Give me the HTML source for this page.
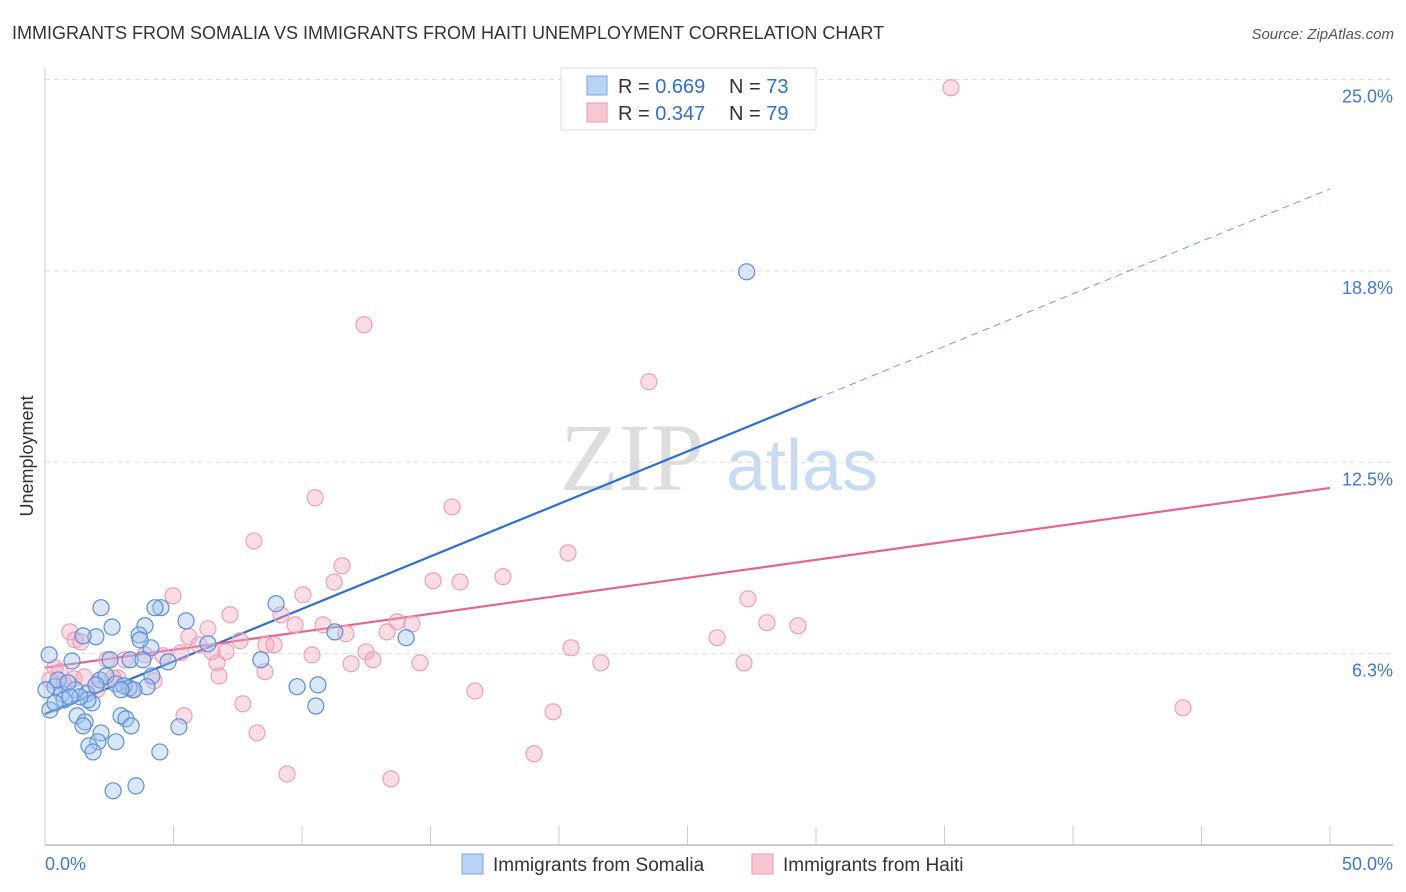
<!DOCTYPE html>
<html><head><meta charset="utf-8"><style>
body{margin:0;background:#fff;font-family:"Liberation Sans",sans-serif;}
svg{display:block}
</style></head><body>
<svg id="chart" width="1406" height="892" xmlns="http://www.w3.org/2000/svg">
<text x="12" y="39" font-size="18" fill="#333" font-family="Liberation Sans, sans-serif">IMMIGRANTS FROM SOMALIA VS IMMIGRANTS FROM HAITI UNEMPLOYMENT CORRELATION CHART</text>
<text x="1394" y="39" font-size="15" fill="#555" font-style="italic" text-anchor="end">Source: ZipAtlas.com</text>
<text transform="translate(33,456) rotate(-90)" font-size="18" fill="#333" text-anchor="middle">Unemployment</text>
<g font-size="96" text-anchor="middle">
<text x="632" y="490" fill="#ddd" font-family="Liberation Serif, serif">ZIP</text>
<text x="802" y="490" fill="#c8dbf2" font-size="72">atlas</text>
</g>
<g id="grid"></g><g id="axes"></g><g id="trend"></g><g id="pts"></g>
<g>
<rect x="561" y="68" width="255" height="62" fill="#fff" stroke="#ddd"/>
<rect x="587" y="76" width="20" height="19" fill="#b9d3f5" stroke="#7aa7e0"/>
<rect x="587" y="103" width="20" height="19" fill="#f9c6d4" stroke="#ec9ab3"/>
<text x="618" y="93" font-size="20" fill="#333">R = <tspan fill="#2f6fd4">0.669</tspan></text>
<text x="729" y="93" font-size="20" fill="#333">N = <tspan fill="#2f6fd4">73</tspan></text>
<text x="618" y="120" font-size="20" fill="#333">R = <tspan fill="#2f6fd4">0.347</tspan></text>
<text x="729" y="120" font-size="20" fill="#333">N = <tspan fill="#2f6fd4">79</tspan></text>
</g>
<g font-size="19" fill="#333">
<rect x="462" y="854" width="21" height="20" fill="#b9d3f5" stroke="#7aa7e0"/>
<text x="493" y="871">Immigrants from Somalia</text>
<rect x="752" y="854" width="21" height="20" fill="#f9c6d4" stroke="#ec9ab3"/>
<text x="783" y="871">Immigrants from Haiti</text>
</g>
</svg>
<script>
const xTickLabels=["0.0%","50.0%"];
const yTicks=[6.25,12.5,18.75,25];
const yTickLabels=["6.3%","12.5%","18.8%","25.0%"];
const somaliaX=[27.3,14.05,11.28,10.62,9.81,10.54,8.99,8.40,6.34,5.49,4.51,4.28,3.89,3.66,4.12,4.79,4.16,3.97,3.31,3.81,3.27,2.61,2.18,1.98,1.48,1.05,0.16,0.39,0.66,1.17,1.63,1.83,0.74,0.19,0.39,1.25,1.56,1.48,2.18,2.06,1.71,1.87,2.76,2.96,3.15,3.35,4.47,5.21,2.65,3.54,2.14,2.37,2.76,3.07,3.46,0.04,0.51,0.89,2.53,3.70,2.96,1.98,1.67,1.36,0.97];
const somaliaY=[18.72,6.77,6.96,5.23,5.17,4.54,7.88,6.05,6.57,7.32,7.75,7.75,7.16,6.86,6.44,5.98,5.52,5.17,6.05,6.05,5.13,7.12,7.75,6.80,6.83,6.01,6.21,5.17,4.94,5.07,4.94,4.64,4.74,4.41,4.64,4.22,4.02,3.89,3.66,3.37,3.24,3.04,3.37,4.22,4.12,3.89,3.04,3.86,1.77,1.93,5.39,5.52,5.26,5.20,5.07,5.07,5.39,5.30,6.05,6.70,5.07,5.23,4.74,4.84,4.84];
const haitiX=[35.25,12.41,23.50,10.51,15.84,8.13,20.35,11.56,11.25,15.10,16.15,17.82,4.98,10.04,7.20,9.18,6.34,9.73,10.82,13.70,14.28,13.31,11.71,27.35,28.09,29.30,26.15,20.47,8.60,8.91,7.59,5.60,5.99,6.50,7.04,4.59,5.29,10.39,12.49,12.76,11.91,14.59,21.63,27.20,6.69,2.41,3.11,3.89,0.97,1.17,1.40,0.39,0.58,0.19,0.74,1.13,1.52,2.14,2.84,4.24,6.77,8.56,16.73,7.70,5.41,19.77,44.28,8.25,19.03,9.42,13.46,3.39,2.65,2.02];
const haitiY=[24.73,16.99,15.13,11.34,11.04,9.93,9.54,9.12,8.59,8.63,8.59,8.76,8.14,8.17,7.52,7.52,7.06,7.19,7.19,7.29,7.22,6.96,6.90,8.04,7.26,7.16,6.77,6.44,6.54,6.54,6.67,6.80,6.54,6.31,6.31,6.18,6.28,6.21,6.31,6.05,5.92,5.95,5.95,5.95,5.95,6.05,6.05,6.21,6.96,6.70,6.63,5.79,5.66,5.39,5.26,5.43,5.49,5.39,5.46,5.36,5.52,5.66,5.03,4.61,4.22,4.35,4.48,3.66,2.98,2.32,2.16,5.07,5.46,5.07];
// [intercept, slope]
const somaliaTrend=[4.28,0.343];
const haitiTrend=[5.79,0.1174];
const NS='http://www.w3.org/2000/svg';
const X0=45,X1=1330,Y0=845,PY=30.62;
function xs(v){return X0+(v/50)*(X1-X0);}
function ys(v){return Y0-v*PY;}
function mk(t,a,p){const e=document.createElementNS(NS,t);for(const k in a)e.setAttribute(k,a[k]);p.appendChild(e);return e;}
const grid=document.getElementById('grid'),axes=document.getElementById('axes');
yTicks.forEach((v,i)=>{
 const l=mk('line',{x1:X0,x2:1393,y1:ys(v),y2:ys(v),stroke:'#ddd','stroke-dasharray':'5,4'},grid);
 
 
 const t=mk('text',{x:1393,y:ys(v)+23,'font-size':18,fill:'#3b78d8','text-anchor':'end'},axes);
 t.textContent=yTickLabels[i];
 
 
});
const ax=mk('line',{x1:X0,x2:1393,y1:Y0,y2:Y0,stroke:'#bbb','stroke-width':1.5},axes);


const ay=mk('line',{x1:X0,x2:X0,y1:68,y2:Y0,stroke:'#ccc'},axes);


for(let k=1;k<=10;k++){
 const tk=mk('line',{x1:xs(k*5),x2:xs(k*5),y1:826,y2:Y0,stroke:'#ccc'},axes);
 
 
}
[[0,'start'],[50,'end']].forEach((d,i)=>{
 const t=mk('text',{x:i?1393:45,y:870,'font-size':18,fill:'#3b78d8','text-anchor':d[1]},axes);
 t.textContent=xTickLabels[i];
 
 
});
const tr=document.getElementById('trend');
function ty(t,x){return t[0]+t[1]*x;}
const b1=mk('line',{x1:xs(0),y1:ys(ty(somaliaTrend,0)),x2:xs(30),y2:ys(ty(somaliaTrend,30)),stroke:'#2a6fd6','stroke-width':2.2},tr);


const b2=mk('line',{x1:xs(30),y1:ys(ty(somaliaTrend,30)),x2:xs(50),y2:ys(ty(somaliaTrend,50)),stroke:'#6a9be0','stroke-width':1,'stroke-dasharray':'7,5'},tr);


const p1=mk('line',{x1:xs(0),y1:ys(ty(haitiTrend,0)),x2:xs(50),y2:ys(ty(haitiTrend,50)),stroke:'#e5658f','stroke-width':2.2},tr);


const pts=document.getElementById('pts');
haitiX.forEach((x,i)=>{
 const c=mk('circle',{cx:xs(x),cy:ys(haitiY[i]),r:8,fill:'rgba(245,170,192,0.4)',stroke:'#eba0b6','stroke-width':1.2},pts);
 
 
});
somaliaX.forEach((x,i)=>{
 const c=mk('circle',{cx:xs(x),cy:ys(somaliaY[i]),r:8,fill:'rgba(160,196,240,0.4)',stroke:'#5a8fd8','stroke-width':1.2},pts);
 
 
});
</script>
</body></html>
